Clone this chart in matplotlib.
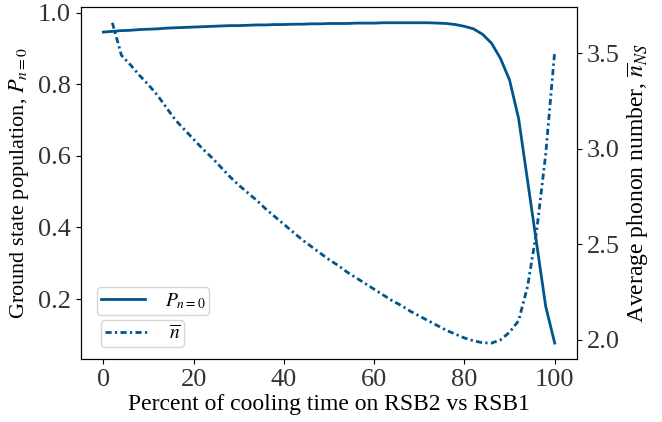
import matplotlib
matplotlib.use("Agg")
import matplotlib.pyplot as plt
import numpy as np

plt.rcParams['font.family'] = ['Liberation Serif', 'DejaVu Serif']
plt.rcParams['mathtext.fontset'] = 'stix'

# percent of cooling time on RSB2
pct_p = np.arange(0, 101, 2)
p_ground = [0.946, 0.948, 0.950, 0.951, 0.953, 0.954, 0.955, 0.957, 0.958, 0.959,
            0.960, 0.961, 0.962, 0.963, 0.964, 0.964, 0.965, 0.966, 0.966, 0.967,
            0.967, 0.968, 0.968, 0.969, 0.969, 0.970, 0.970, 0.970, 0.971, 0.971,
            0.971, 0.972, 0.972, 0.972, 0.972, 0.972, 0.972, 0.971, 0.970, 0.967,
            0.962, 0.955, 0.940, 0.915, 0.872, 0.812, 0.705, 0.530, 0.355, 0.180,
            0.077]

pct_n = np.arange(2, 101, 2)
n_avg = [3.66, 3.49, 3.44, 3.385, 3.335, 3.28, 3.215, 3.15, 3.10, 3.05,
         3.00, 2.955, 2.905, 2.855, 2.81, 2.77, 2.73, 2.685, 2.645, 2.605,
         2.565, 2.525, 2.49, 2.455, 2.42, 2.39, 2.355, 2.325, 2.295, 2.265,
         2.235, 2.205, 2.18, 2.15, 2.125, 2.10, 2.075, 2.05, 2.03, 2.01,
         1.995, 1.985, 1.983, 2.00, 2.04, 2.10, 2.28, 2.57, 2.97, 3.51]

color = '#00558a'

fig, ax1 = plt.subplots(figsize=(6.62, 4.22), dpi=100)
fig.subplots_adjust(left=0.122, right=0.872, bottom=0.149, top=0.984)
ax2 = ax1.twinx()

l1, = ax1.plot(pct_p, p_ground, color=color, lw=2.0, label=r'$P_{n=0}$')
l2, = ax2.plot(pct_n, n_avg, color=color, lw=2.0, linestyle=(0, (2.2, 1.2, 0.8, 1.2)),
               label=r'$\overline{n}$')

ax1.set_xlabel('Percent of cooling time on RSB2 vs RSB1', fontsize=17, labelpad=2)
ax1.set_ylabel(r'Ground state population, $P_{n=0}$', fontsize=16, labelpad=5)
ax2.set_ylabel(r'Average phonon number, $\overline{n}_{NS}$', fontsize=17, labelpad=4)

ax1.set_xticks([0, 20, 40, 60, 80, 100])
ax1.set_yticks([0.2, 0.4, 0.6, 0.8, 1.0])
ax2.set_yticks([2.0, 2.5, 3.0, 3.5])
for a in (ax1, ax2):
    a.tick_params(labelsize=19, colors='#333333')
    a.tick_params(axis='both', which='both', color='black')

leg_kw = dict(loc='lower left', fontsize=14, handlelength=2.3, borderpad=0.2,
              handletextpad=1.0, borderaxespad=0)
ax1.legend(handles=[l1], bbox_to_anchor=(0.032, 0.126), **leg_kw)
ax2.legend(handles=[l2], bbox_to_anchor=(0.04, 0.035), **leg_kw)

fig.savefig('out.png', dpi=100)
